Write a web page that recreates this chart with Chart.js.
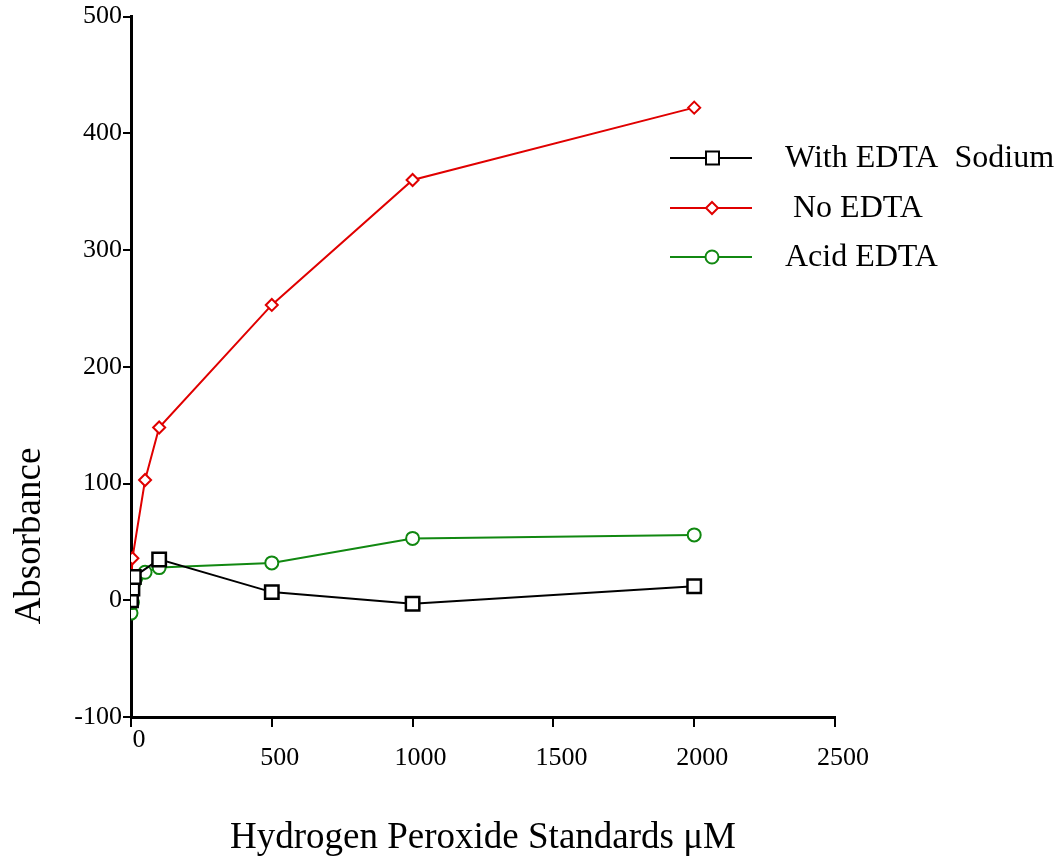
<!DOCTYPE html>
<html lang="en">
<head>
	<meta charset="utf-8">
	<script src="https://cdn.jsdelivr.net/npm/chart.js@4.4.1/dist/chart.umd.min.js"></script>
	<title>Absorbance vs Hydrogen Peroxide Standards</title>
	<style>
		html, body { margin: 0; padding: 0; background: #fff; }
		#wrap { width: 1062px; height: 862px; }
	</style>
</head>
<body>
<div id="wrap"><canvas id="myChart"></canvas></div>
<script>
// series names (legend text)
const seriesNames = ['With EDTA  Sodium', ' No EDTA', 'Acid EDTA'];

// With EDTA Sodium
const sodiumX = [0, 5, 10, 100, 500, 1000, 2000];
const sodiumY = [0, 10, 20, 35, 7, -3, 12];
// No EDTA
const noX = [0, 5, 50, 100, 500, 1000, 2000];
const noY = [6, 36, 103, 148, 253, 360, 422];
// Acid EDTA
const acidX = [0, 5, 50, 100, 500, 1000, 2000];
const acidY = [-11, -2, 24, 28, 32, 53, 56];

const xTicks = [0, 500, 1000, 1500, 2000, 2500];
const yTicks = [-100, 0, 100, 200, 300, 400, 500];

const yTitle = 'Absorbance';
const xTitle = 'Hydrogen Peroxide Standards \u03bcM';

const serif = 'Liberation Serif, Times New Roman, serif';

function pts(xs, ys) {
	return xs.map((x, i) => ({x: x, y: ys[i]}));
}

// legend drawn at a fixed place to the right of the lines, plus the y title
const sideLegend = {
	id: 'sideLegend',
	afterDraw(chart) {
		const c = chart.ctx;
		const rows = [158, 208, 257];
		chart.data.datasets.forEach((ds, i) => {
			const y = rows[i];
			c.save();
			c.strokeStyle = ds.borderColor;
			c.lineWidth = 2;
			c.beginPath();
			c.moveTo(670, y);
			c.lineTo(752, y);
			c.stroke();
			c.fillStyle = '#fff';
			c.beginPath();
			if (ds.pointStyle === 'rect') {
				c.rect(706, y - 6.5, 13, 13);
			} else if (ds.pointStyle === 'rectRot') {
				c.moveTo(712, y - 6); c.lineTo(718, y); c.lineTo(712, y + 6); c.lineTo(706, y); c.closePath();
			} else {
				c.arc(712, y, 6.5, 0, Math.PI * 2);
			}
			c.fill();
			c.stroke();
			c.fillStyle = '#000';
			c.font = '32px ' + serif;
			c.textBaseline = 'middle';
			c.fillText(seriesNames[i], 785, y + 1);
			c.restore();
		});
		c.save();
		c.translate(30, 536);
		c.rotate(-Math.PI / 2);
		c.fillStyle = '#000';
		c.font = '37px ' + serif;
		c.textAlign = 'center';
		c.textBaseline = 'middle';
		c.fillText(yTitle, 0, 0);
		c.restore();
	}
};

const ctx = document.getElementById('myChart');
new Chart(ctx, {
	type: 'line',
	data: {
		datasets: [{
			label: seriesNames[0],
			data: pts(sodiumX, sodiumY),
			borderColor: '#000000',
			backgroundColor: '#ffffff',
			pointStyle: 'rect',
			pointRadius: 9.5,
			pointBorderWidth: 2.5,
			borderWidth: 2
		}, {
			label: seriesNames[1],
			data: pts(noX, noY),
			borderColor: '#e00000',
			backgroundColor: '#ffffff',
			pointStyle: 'rectRot',
			pointRadius: 6,
			pointBorderWidth: 2,
			borderWidth: 2
		}, {
			label: seriesNames[2],
			data: pts(acidX, acidY),
			borderColor: '#118811',
			backgroundColor: '#ffffff',
			pointStyle: 'circle',
			pointRadius: 6.5,
			pointBorderWidth: 2,
			borderWidth: 2
		}]
	},
	options: {
		responsive: true,
		maintainAspectRatio: false,
		animation: false,
		layout: { padding: { top: 16, right: 227, left: 0, bottom: 0 } },
		plugins: {
			legend: { display: false },
			tooltip: { enabled: false }
		},
		scales: {
			x: {
				type: 'linear',
				min: 0,
				max: 2500,
				afterBuildTicks: s => { s.ticks = xTicks.map(v => ({value: v})); },
				afterFit: s => { s.height = 145; },
				border: { color: '#000', width: 3 },
				grid: { drawOnChartArea: false, drawTicks: true, tickLength: 10, color: '#000', lineWidth: 2 },
				ticks: {
					color: '#000',
					font: { family: serif, size: 26, lineHeight: 0.7 },
					padding: 4,
					labelOffset: 8,
					maxRotation: 0,
					autoSkip: false,
					callback: v => v === 0 ? '0' : ['', String(v)]
				},
				title: {
					display: true,
					text: xTitle,
					color: '#000',
					font: { family: serif, size: 37 },
					padding: { top: 0, bottom: 2 }
				}
			},
			y: {
				type: 'linear',
				min: -100,
				max: 500,
				afterBuildTicks: s => { s.ticks = yTicks.map(v => ({value: v})); },
				afterFit: s => { s.width = 131; },
				border: { color: '#000', width: 3 },
				grid: { drawOnChartArea: false, drawTicks: true, tickLength: 8, color: '#000', lineWidth: 2 },
				ticks: {
					color: '#000',
					font: { family: serif, size: 26 },
					padding: 1,
					autoSkip: false
				},
				title: { display: false }
			}
		}
	},
	plugins: [sideLegend]
});
</script>
</body>
</html>
